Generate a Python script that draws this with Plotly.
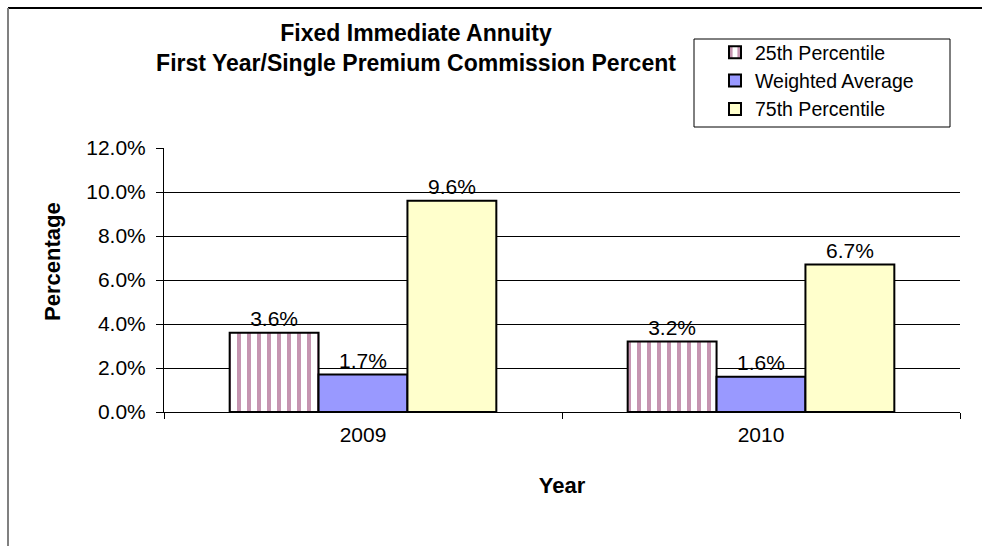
import plotly.graph_objects as go

years = ["2009", "2010"]
p25 = [0.036, 0.032]
wavg = [0.017, 0.016]
p75 = [0.096, 0.067]
series_names = ["25th Percentile", "Weighted Average", "75th Percentile"]

L, R, T, B = 164, 22, 148, 134
W, H = 982, 546
pw, ph = W - L - R, H - T - B

def px_x(x):
    return (x - L) / pw

def px_y(y):
    return 1 - (y - T) / ph

font = "Liberation Sans, Arial, sans-serif"

fig = go.Figure()
fig.add_trace(go.Bar(
    x=years, y=p25, name=series_names[0],
    marker=dict(color="white", line=dict(color="black", width=2),
                pattern=dict(shape="|", fgcolor="#8E2B63", bgcolor="white", size=10, solidity=0.4)),
    texttemplate="%{y:.1%}", textposition="outside", cliponaxis=False,
))
fig.add_trace(go.Bar(
    x=years, y=wavg, name=series_names[1],
    marker=dict(color="#9999FF", line=dict(color="black", width=2)),
    texttemplate="%{y:.1%}", textposition="outside", cliponaxis=False,
))
fig.add_trace(go.Bar(
    x=years, y=p75, name=series_names[2],
    marker=dict(color="#FFFFCC", line=dict(color="black", width=2)),
    texttemplate="%{y:.1%}", textposition="outside", cliponaxis=False,
))

fig.update_traces(textfont=dict(size=21, color="black", family=font))

fig.update_layout(
    width=W, height=H,
    margin=dict(l=L, r=R, t=T, b=B),
    paper_bgcolor="white", plot_bgcolor="white",
    barmode="group", bargap=0.33, bargroupgap=0,
    font=dict(family=font, color="black", size=20),
    title=dict(text="<b>Fixed Immediate Annuity<br>First Year/Single Premium Commission Percent</b>",
               xref="container", x=416 / W, xanchor="center",
               yref="container", y=1 - 41 / H, yanchor="top",
               font=dict(size=23, family=font, color="black")),
    legend=dict(x=px_x(715), y=px_y(33), xanchor="left", yanchor="top",
                borderwidth=0, bgcolor="rgba(0,0,0,0)",
                font=dict(size=19.5, family=font), tracegroupgap=0,
                itemwidth=30),
    showlegend=True,
    xaxis=dict(
        title=dict(text="<b>Year</b>", font=dict(size=22, family=font), standoff=32),
        showline=True, linecolor="black", linewidth=1,
        ticks="outside", tickson="boundaries", ticklen=6, tickcolor="black",
        tickfont=dict(size=21, family=font), ticklabelstandoff=4,
    ),
    yaxis=dict(
        range=[0, 0.12], dtick=0.02, tickformat=".1%",
        showline=True, linecolor="black", linewidth=1,
        showgrid=True, gridcolor="black", gridwidth=1,
        ticks="outside", ticklen=7, tickcolor="black",
        tickfont=dict(size=21, family=font), ticklabelstandoff=6,
        zeroline=False,
    ),
    annotations=[
        dict(text="<b>Percentage</b>", textangle=-90, showarrow=False,
             xref="paper", yref="paper", x=px_x(52), y=px_y(262),
             xanchor="center", yanchor="middle",
             font=dict(size=22, family=font, color="black")),
    ],
    shapes=[
        dict(type="line", xref="paper", yref="paper",
             x0=px_x(8), x1=px_x(982), y0=px_y(8), y1=px_y(8),
             line=dict(color="black", width=2)),
        dict(type="line", xref="paper", yref="paper",
             x0=px_x(8), x1=px_x(8), y0=px_y(8), y1=px_y(546),
             line=dict(color="#808080", width=2)),
        dict(type="rect", xref="paper", yref="paper",
             x0=px_x(694), x1=px_x(950), y0=px_y(39), y1=px_y(127),
             line=dict(color="black", width=1), fillcolor="rgba(0,0,0,0)"),
    ],
)

fig.write_html("out.html", config={"displayModeBar": False},
               post_script="document.body.style.margin='0px';")
